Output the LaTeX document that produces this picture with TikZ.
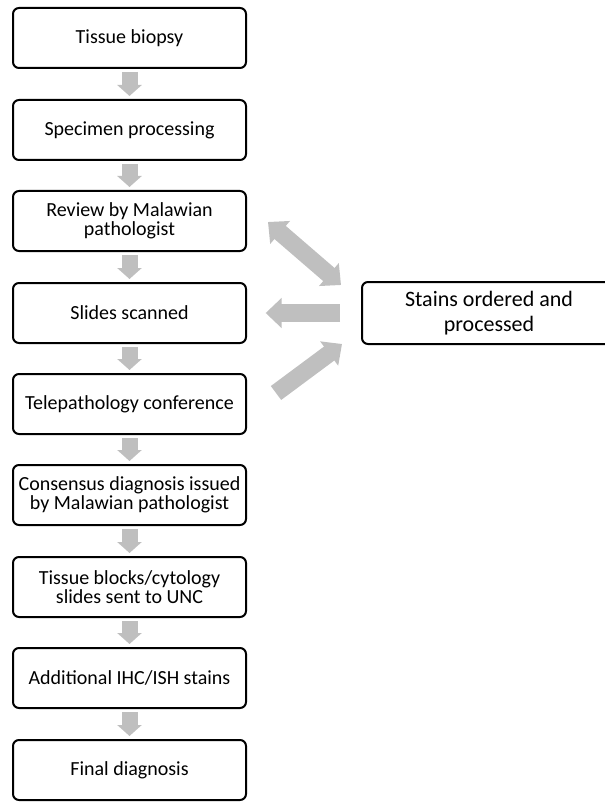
\documentclass[tikz,border=0pt]{standalone}
\usepackage{fontspec}
\setmainfont{Carlito}
\usetikzlibrary{arrows.meta,calc}
\definecolor{flowgray}{RGB}{191,191,191}
\tikzset{
	boxline/.style={draw=black, line width=1.5pt, rounded corners=4.5pt},
	stepbox/.style={boxline, fill=white, minimum width=174.75pt, minimum height=45pt, align=center, inner sep=0pt, font=\fontsize{15}{14.5}\selectfont},
	vflow/.style={draw=flowgray, line width=12pt, -{Triangle[length=8.25pt, width=18pt]}, shorten <=2.25pt, shorten >=2.25pt},
	bigflow/.style={draw=flowgray, line width=13pt, -{Triangle[length=12pt, width=22pt]}},
	dblflow/.style={draw=flowgray, line width=13pt, {Triangle[length=12pt, width=22pt]}-{Triangle[length=12pt, width=22pt]}}
}

\begin{document}
\begin{tikzpicture}[x=0.75pt,y=0.75pt,yscale=-1,xscale=1]
	\useasboundingbox (0,0) rectangle (605,802);
	% main column
	\node [stepbox] (biopsy) at (129.5,38) {Tissue biopsy};
	\node [stepbox] (proc) at (129.5,130) {Specimen processing};
	\node [stepbox] (review) at (129.5,221) {Review by Malawian\\pathologist};
	\node [stepbox] (scan) at (129.5,313) {Slides scanned};
	\node [stepbox] (conf) at (129.5,404) {Telepathology conference};
	\node [stepbox] (cons) at (129.5,495) {Consensus diagnosis issued\\by Malawian pathologist};
	\node [stepbox] (blocks) at (129.5,587) {Tissue blocks/cytology\\slides sent to UNC};
	\node [stepbox] (ihc) at (129.5,678) {Additional IHC/ISH stains};
	\node [stepbox] (final) at (129.5,770) {Final diagnosis};
	% side box, its right side runs off the page
	\node [stepbox, draw=none, minimum width=189pt, font=\fontsize{16.5}{18.5}\selectfont] (stains) at (489,313) {Stains ordered and\\processed};
	\draw [boxline] (stains.north west) rectangle ([xshift=30pt]stains.south east);
	% arrows down
	\draw [vflow] (biopsy) -- (proc);
	\draw [vflow] (proc) -- (review);
	\draw [vflow] (review) -- (scan);
	\draw [vflow] (scan) -- (conf);
	\draw [vflow] (conf) -- (cons);
	\draw [vflow] (cons) -- (blocks);
	\draw [vflow] (blocks) -- (ihc);
	\draw [vflow] (ihc) -- (final);
	% arrows to the side box
	\draw [dblflow] ($(review.north east)+(21,32)$) -- ($(stains.west)+(-21,-28)$);
	\draw [bigflow, shorten <=16.5pt, shorten >=14pt] (stains) -- (scan);
	\draw [bigflow] ($(conf.east)+(29,-11)$) -- ($(stains.south west)+(-20,0)$);
\end{tikzpicture}
\end{document}
